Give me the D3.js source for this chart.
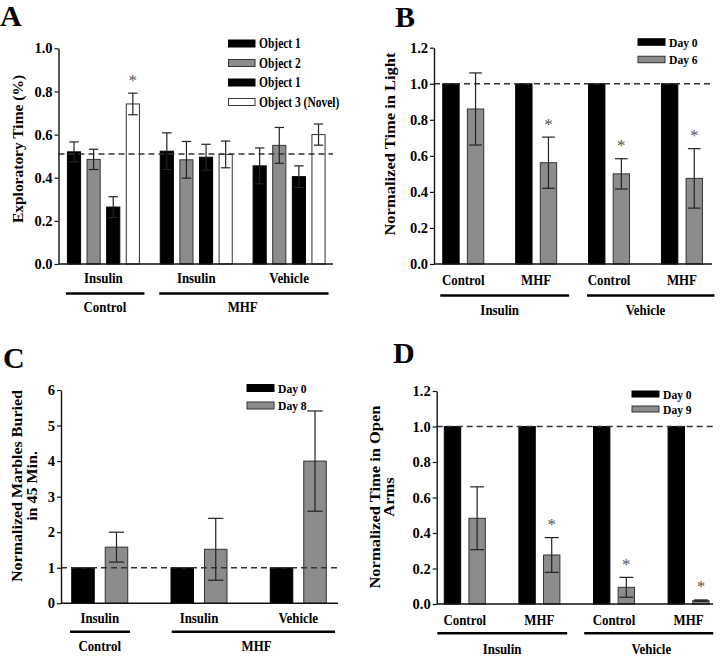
<!DOCTYPE html>
<html><head><meta charset="utf-8">
<script src="https://cdn.jsdelivr.net/npm/d3@7"></script>
<style>
body{margin:0;background:#fff}
svg{display:block}
</style>
</head><body>
<svg id="c" width="720" height="656"></svg>
<script>
// ---------------- DATA ----------------
// Panel A: Novel object recognition
const aRow1 = ["Insulin", "Insulin", "Vehicle"];
const aRow2 = ["Control", "MHF"];
const aSeriesNames = ["Object 1", "Object 2", "Object 1", "Object 3 (Novel)"];
const aObj1 = [0.520, 0.523, 0.455];
const aObj2 = [0.485, 0.483, 0.550];
const aObj1b = [0.264, 0.495, 0.405];
const aObj3 = [0.742, 0.508, 0.600];
const aErr1 = [0.046, 0.085, 0.083];
const aErr2 = [0.047, 0.085, 0.083];
const aErr1b = [0.048, 0.060, 0.050];
const aErr3 = [0.050, 0.062, 0.049];
const aSig3 = [true, false, false];
const aRef = 0.51;
const aTicks = [0, 0.2, 0.4, 0.6, 0.8, 1.0];

// Panel B: Light/dark box
const bRow1 = ["Control", "MHF", "Control", "MHF"];
const bRow2 = ["Insulin", "Vehicle"];
const bSeriesNames = ["Day 0", "Day 6"];
const bDay0 = [1, 1, 1, 1];
const bDay6 = [0.860, 0.562, 0.500, 0.475];
const bErr6 = [0.200, 0.142, 0.084, 0.165];
const bSig6 = [false, true, true, true];
const bTicks = [0, 0.2, 0.4, 0.6, 0.8, 1.0, 1.2];

// Panel C: Marble burying
const cRow1 = ["Insulin", "Insulin", "Vehicle"];
const cRow2 = ["Control", "MHF"];
const cSeriesNames = ["Day 0", "Day 8"];
const cDay0 = [1, 1, 1];
const cDay8 = [1.58, 1.52, 4.00];
const cErr8 = [0.42, 0.87, 1.41];
const cTicks = [0, 1, 2, 3, 4, 5, 6];

// Panel D: Elevated plus maze
const dRow1 = ["Control", "MHF", "Control", "MHF"];
const dRow2 = ["Insulin", "Vehicle"];
const dSeriesNames = ["Day 0", "Day 9"];
const dDay0 = [1, 1, 1, 1];
const dDay9 = [0.483, 0.276, 0.094, 0.019];
const dErr9 = [0.177, 0.098, 0.056, 0.004];
const dSig9 = [false, true, true, true];
const dTicks = [0, 0.2, 0.4, 0.6, 0.8, 1.0, 1.2];

// ---------------- DRAWING ----------------
const FONT = '"Liberation Serif", "Times New Roman", "DejaVu Serif", "Noto Serif", serif';
const svg = d3.select("#c");
const BLACK = "#000", GREY = "#8c8c8c", GSTROKE = "#333", WHITE = "#fff";

function txt(g, x, y, s, o = {}) {
  const size = o.size || 14, sx = o.sx || 1, rot = o.rot || false;
  let tr = `translate(${x},${y})`;
  if (rot) tr += " rotate(-90)";
  if (sx !== 1) tr += rot ? ` scale(1,${sx})` : ` scale(${sx},1)`;
  return g.append("text").attr("transform", tr)
    .attr("text-anchor", o.anchor || "middle")
    .attr("font-family", FONT).style("font-family", FONT)
    .style("font-size", size + "px")
    .style("font-weight", o.weight || "bold")
    .attr("fill", o.fill || "#000").text(s);
}

function drawPanel(p) {
  const g = svg.append("g");
  const y = d3.scaleLinear(p.yDomain, p.yRange);
  const n = p.row1.length;
  const gx = d3.scaleBand(d3.range(n), p.groupRange).padding(0);
  const ix = d3.scaleBand(d3.range(p.series.length), p.innerRange).paddingInner(p.innerPad).paddingOuter(0);
  const bw = ix.bandwidth();
  const cx = i => gx(i) + gx.bandwidth() / 2;

  // bars
  p.series.forEach((s, si) => {
    g.append("g").selectAll("rect").data(s.values).join("rect")
      .attr("x", (d, i) => cx(i) + ix(si)).attr("width", bw)
      .attr("y", d => y(d)).attr("height", d => y(0) - y(d))
      .attr("fill", s.fill).attr("stroke", s.stroke).attr("stroke-width", 1);
  });
  // reference dashed line
  g.append("line").attr("x1", p.axisX).attr("x2", p.axisEnd)
    .attr("y1", y(p.ref)).attr("y2", y(p.ref))
    .attr("stroke", "#333").attr("stroke-width", 1.3).attr("stroke-dasharray", "6,4");
  // error bars + asterisks
  p.series.forEach((s, si) => {
    if (!s.errors) return;
    const cap = bw * p.capFrac / 2;
    s.values.forEach((v, i) => {
      const e = s.errors[i];
      const xm = cx(i) + ix(si) + bw / 2;
      const eg = g.append("g").attr("stroke", "#222").attr("stroke-width", 1.2);
      eg.append("line").attr("x1", xm).attr("x2", xm).attr("y1", y(v - e)).attr("y2", y(v + e));
      eg.append("line").attr("x1", xm - cap).attr("x2", xm + cap).attr("y1", y(v + e)).attr("y2", y(v + e));
      eg.append("line").attr("x1", xm - cap).attr("x2", xm + cap).attr("y1", y(v - e)).attr("y2", y(v - e));
      if (s.sig && s.sig[i]) {
        txt(g, xm, y(v + e) - 7.5, "*", {size: 17, weight: "normal", fill: "#555"});
      }
    });
  });
  // axes
  const ax = g.append("g").attr("transform", `translate(${p.axisX},0)`)
    .call(d3.axisLeft(y).tickValues(p.ticks).tickFormat(p.fmt).tickSize(4).tickSizeOuter(0).tickPadding(2));
  ax.attr("font-family", FONT);
  ax.select(".domain").attr("stroke", "#111").attr("stroke-width", 1.4);
  ax.selectAll(".tick line").attr("stroke", "#111").attr("stroke-width", 1.2);
  ax.selectAll(".tick text").style("font-size", "14.5px").style("font-weight", "bold")
    .attr("font-family", FONT).style("font-family", FONT).attr("fill", "#000");
  g.append("line").attr("x1", p.axisX).attr("x2", p.axisEnd).attr("y1", y(0)).attr("y2", y(0))
    .attr("stroke", "#111").attr("stroke-width", 1.4);
  // category labels
  p.row1.forEach((l, i) => txt(g, cx(i), p.row1Y, l, {size: 15, sx: 0.86}));
  p.row2.forEach(r => {
    const x1 = cx(r.from) + r.padL, x2 = cx(r.to) + r.padR;
    g.append("line").attr("x1", x1).attr("x2", x2).attr("y1", p.lineY).attr("y2", p.lineY)
      .attr("stroke", "#000").attr("stroke-width", 2.4);
    txt(g, (cx(r.from) + cx(r.to)) / 2 + (r.dx || 0), p.row2Y, r.label, {size: 15, sx: 0.86});
  });
  // y label
  p.ylabel.forEach(l => txt(g, l.x, p.ylabelY, l.text, {size: p.ylabelSize, rot: true, sx: 0.88}));
  // panel letter
  txt(g, p.letter.x, p.letter.y, p.letter.t, {size: 30, anchor: "start"});
  // legend
  const L = p.legend;
  p.series.forEach((s, si) => {
    const yc = L.y0 + si * L.dy;
    g.append("rect").attr("x", L.x).attr("y", yc - L.h / 2).attr("width", L.w).attr("height", L.h)
      .attr("fill", s.fill).attr("stroke", s.stroke).attr("stroke-width", 1);
    txt(g, L.x + L.w + 4, yc + 4.6, s.name, {size: L.size, sx: L.sx, anchor: "start"});
  });
}

const f1 = d3.format(".1f"), f0 = d3.format("d");

// Panel A
drawPanel({
  yDomain: [0, 1], yRange: [264, 48.3], ticks: aTicks, fmt: f1, ref: aRef,
  axisX: 58.5, axisEnd: 333, groupRange: [57, 335.5], innerRange: [-36, 36], innerPad: 0.33, capFrac: 0.72,
  row1: aRow1, row1Y: 283, lineY: 293.5, row2Y: 312,
  row2: [{label: aRow2[0], from: 0, to: 0, padL: -37.5, padR: 41, dx: 1.5},
         {label: aRow2[1], from: 1, to: 2, padL: -37, padR: 39.5}],
  series: [
    {name: aSeriesNames[0], values: aObj1, errors: aErr1, fill: BLACK, stroke: BLACK},
    {name: aSeriesNames[1], values: aObj2, errors: aErr2, fill: GREY, stroke: GSTROKE},
    {name: aSeriesNames[2], values: aObj1b, errors: aErr1b, fill: BLACK, stroke: BLACK},
    {name: aSeriesNames[3], values: aObj3, errors: aErr3, sig: aSig3, fill: WHITE, stroke: GSTROKE}
  ],
  ylabel: [{x: 22.5, text: "Exploratory Time (%)"}], ylabelY: 149, ylabelSize: 15.5,
  letter: {x: 0, y: 26, t: "A"},
  legend: {x: 228.5, y0: 43.5, dy: 19.5, w: 26.5, h: 7, size: 14, sx: 0.82}
});

// Panel B
drawPanel({
  yDomain: [0, 1.2], yRange: [264, 47.7], ticks: bTicks, fmt: f1, ref: 1,
  axisX: 434, axisEnd: 712, groupRange: [426.8, 718.4], innerRange: [-20.5, 20.5], innerPad: 0.335, capFrac: 0.78,
  row1: bRow1, row1Y: 285, lineY: 295.5, row2Y: 315,
  row2: [{label: bRow2[0], from: 0, to: 1, padL: -23, padR: 33},
         {label: bRow2[1], from: 2, to: 3, padL: -22, padR: 32.5}],
  series: [
    {name: bSeriesNames[0], values: bDay0, fill: BLACK, stroke: BLACK},
    {name: bSeriesNames[1], values: bDay6, errors: bErr6, sig: bSig6, fill: GREY, stroke: GSTROKE}
  ],
  ylabel: [{x: 394.5, text: "Normalized Time in Light"}], ylabelY: 144, ylabelSize: 16.5,
  letter: {x: 395, y: 27, t: "B"},
  legend: {x: 638, y0: 42, dy: 17.5, w: 27, h: 6.5, size: 13.5, sx: 0.86}
});

// Panel C
drawPanel({
  yDomain: [0, 6], yRange: [603.3, 390], ticks: cTicks, fmt: f0, ref: 1,
  axisX: 61, axisEnd: 338, groupRange: [50.1, 347.9], innerRange: [-28, 28], innerPad: 0.328, capFrac: 0.68,
  row1: cRow1, row1Y: 623, lineY: 631.7, row2Y: 651,
  row2: [{label: cRow2[0], from: 0, to: 0, padL: -29.7, padR: 30.3},
         {label: cRow2[1], from: 1, to: 2, padL: -27.3, padR: 36.8, dx: 8}],
  series: [
    {name: cSeriesNames[0], values: cDay0, fill: BLACK, stroke: BLACK},
    {name: cSeriesNames[1], values: cDay8, errors: cErr8, fill: GREY, stroke: GSTROKE}
  ],
  ylabel: [{x: 21.5, text: "Normalized Marbles Buried"}, {x: 36.5, text: "in 45 Min."}], ylabelY: 486, ylabelSize: 16,
  letter: {x: 3, y: 368, t: "C"},
  legend: {x: 247, y0: 388, dy: 17.5, w: 27, h: 7, size: 13.5, sx: 0.86}
});

// Panel D
drawPanel({
  yDomain: [0, 1.2], yRange: [604, 391], ticks: dTicks, fmt: f1, ref: 1,
  axisX: 436.7, axisEnd: 713, groupRange: [427.5, 725.9], innerRange: [-20.5, 20.5], innerPad: 0.335, capFrac: 0.85,
  row1: dRow1, row1Y: 625, lineY: 633.3, row2Y: 654,
  row2: [{label: dRow2[0], from: 0, to: 1, padL: -27.5, padR: 27.8},
         {label: dRow2[1], from: 2, to: 3, padL: -29.8, padR: 24.6}],
  series: [
    {name: dSeriesNames[0], values: dDay0, fill: BLACK, stroke: BLACK},
    {name: dSeriesNames[1], values: dDay9, errors: dErr9, sig: dSig9, fill: GREY, stroke: GSTROKE}
  ],
  ylabel: [{x: 379.5, text: "Normalized Time in Open"}, {x: 393.5, text: "Arms"}], ylabelY: 497, ylabelSize: 16.5,
  letter: {x: 393, y: 363, t: "D"},
  legend: {x: 632, y0: 394, dy: 15, w: 27, h: 6, size: 13.5, sx: 0.86}
});
</script>
</body></html>
